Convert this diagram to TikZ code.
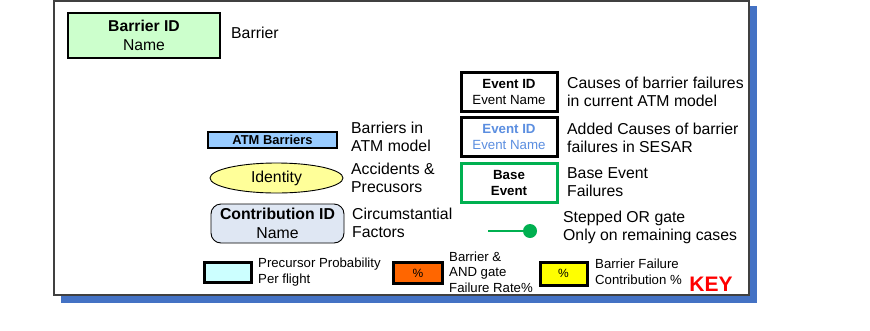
\documentclass[tikz,border=0pt]{standalone}
\usepackage{fontspec}
\setmainfont{Liberation Sans}
\usetikzlibrary{shapes.geometric}
\definecolor{shadowblue}{HTML}{4472C4}
\definecolor{framegray}{HTML}{404040}
\definecolor{barriergreen}{HTML}{CCFFCC}
\definecolor{atmblue}{HTML}{99CCFF}
\definecolor{idyellow}{HTML}{FFFF99}
\definecolor{contribgray}{HTML}{DFE7F3}
\definecolor{eventblue}{HTML}{5B8EE0}
\definecolor{basegreen}{HTML}{00B050}
\definecolor{precyan}{HTML}{CCFFFF}
\definecolor{pctorange}{HTML}{FF6600}
\definecolor{pctyellow}{HTML}{FFFF00}
\definecolor{keyred}{HTML}{FF0000}
\tikzset{
  lbl/.style={anchor=west, align=left, inner sep=0pt, font=\fontsize{15.8}{18}\selectfont},
  slbl/.style={anchor=west, align=left, inner sep=0pt, font=\fontsize{13.2}{15.5}\selectfont},
  kbox/.style={draw, rectangle, inner sep=0pt, align=center},
  evbox/.style={kbox, line width=3pt, fill=white, minimum width=96pt, minimum height=39pt, font=\fontsize{13.3}{16}\selectfont},
  pctbox/.style={kbox, line width=3pt, font=\fontsize{12}{14}\selectfont},
}
\begin{document}
\begin{tikzpicture}[x=1pt,y=-1pt]
\useasboundingbox (0,0) rectangle (870,330);
% frame with shadow
\fill[shadowblue] (61,6) rectangle (757,303);
\draw[framegray, fill=white, line width=1.2pt] (54,1) rectangle (749,295);

% Barrier
\node[kbox, fill=barriergreen, line width=2pt, minimum width=152pt, minimum height=45pt,
  font=\fontsize{15.7}{19}\selectfont] (barrier) at (144,35.5) {\textbf{Barrier ID}\\Name};
\node[lbl] (barrierlbl) at (231,33) {Barrier};

% ATM barriers
\node[kbox, fill=atmblue, line width=2pt, minimum width=129pt, minimum height=16pt,
  font=\bfseries\fontsize{12.9}{14}\selectfont] (atm) at (272.5,140) {ATM Barriers};
\node[lbl] (atmlbl) at (351,137) {Barriers in\\ATM model};

% Identity
\node[draw, ellipse, fill=idyellow, line width=0.9pt, minimum width=133pt, minimum height=30pt,
  inner sep=0pt, font=\fontsize{15.8}{18}\selectfont] (identity) at (276.5,178) {Identity};
\node[lbl] (identitylbl) at (351,178) {Accidents \&\\Precusors};

% Contribution
\node[kbox, rounded corners=10pt, fill=contribgray, line width=0.9pt, minimum width=133pt,
  minimum height=39pt, font=\fontsize{15.8}{19}\selectfont] (contrib) at (277.5,223.5) {\textbf{Contribution ID}\\Name};
\node[lbl] (contriblbl) at (352,223) {Circumstantial\\Factors};

% Events
\node[evbox] (event) at (509,91.5) {\textbf{Event ID}\\Event Name};
\node[lbl] (eventlbl) at (567,92) {Causes of barrier failures\\in current ATM model};
\node[evbox, text=eventblue] (eventadd) at (509,136.5) {\textbf{Event ID}\\Event Name};
\node[lbl] (eventaddlbl) at (567,137.5) {Added Causes of barrier\\failures in SESAR};
\node[evbox, draw=basegreen, line width=3pt, font=\bfseries\fontsize{13.3}{16}\selectfont] (base) at (509,182.5) {Base\\Event};
\node[lbl] (baselbl) at (567,182) {Base Event\\Failures};

% Stepped OR gate
\coordinate (g0) at (488,231);
\node[circle, fill=basegreen, minimum size=14pt, inner sep=0pt] (g1) at (530,231) {};
\draw[basegreen, line width=2.8pt] (g0) -- (g1);
\node[lbl] (gatelbl) at (563,227) {Stepped OR gate\\Only on remaining cases};

% bottom row
\node[pctbox, fill=precyan, minimum width=47pt, minimum height=20pt] (prec) at (227.5,272) {};
\node[slbl] (preclbl) at (258,272) {Precursor Probability\\Per flight};
\node[pctbox, fill=pctorange, minimum width=49pt, minimum height=21pt] (orange) at (418,273) {\%};
\node[slbl] (orangelbl) at (449,272) {Barrier \&\\AND gate\\Failure Rate\%};
\node[pctbox, fill=pctyellow, minimum width=47pt, minimum height=23pt] (yellow) at (563.5,273.5) {\%};
\node[slbl] (yellowlbl) at (595,272) {Barrier Failure\\Contribution \%};
\node[text=keyred, font=\bfseries\fontsize{21}{24}\selectfont, inner sep=0pt] (key) at (711,284.5) {KEY};
\end{tikzpicture}
\end{document}
